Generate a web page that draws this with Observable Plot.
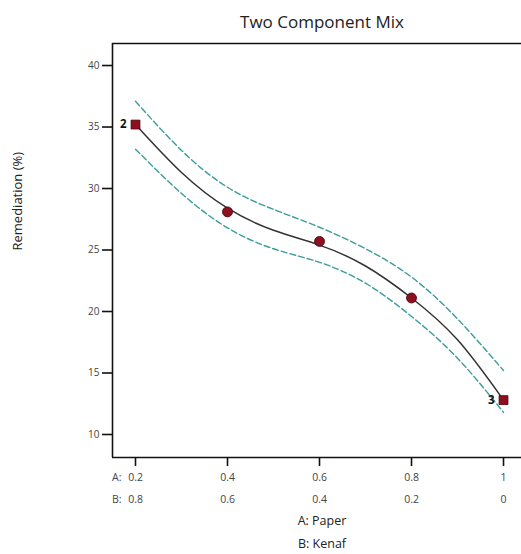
<!DOCTYPE html>
<html><head><meta charset="utf-8">
<script src="https://cdn.jsdelivr.net/npm/d3@7"></script>
<script src="https://cdn.jsdelivr.net/npm/@observablehq/plot@0.6"></script>
<style>
html,body{margin:0;padding:0;background:#fff;overflow:hidden;width:521px;height:554px;}
#title{box-sizing:border-box;height:34px;padding:12px 0 0 123px;width:521px;text-align:center;font-family:"Open Sans",sans-serif;font-size:17px;line-height:20px;color:#222;white-space:nowrap;}
#chart svg g[aria-label="y-axis tick label"] text{fill:#444;}
</style></head><body>
<div id="title"></div>
<div id="chart"></div>
<script>
const title = "Two Component Mix";
const yLabel = "Remediation (%)";
const xTitleLines = ["A: Paper", "B: Kenaf"];
const componentPrefixes = ["A:", "B:"];
const paperFrac = [0.2, 0.4, 0.6, 0.8, 1.0];
const remediation = [35.2, 28.1, 25.7, 21.1, 12.8];
const pointShape = ["square", "circle", "circle", "circle", "square"];
const pointCount = ["2", "", "", "", "3"];
const fitX = [0.2, 0.3, 0.4, 0.5, 0.6, 0.7, 0.8, 0.9, 1.0];
const fitY = [35.2, 31.3, 28.4, 26.6, 25.4, 23.7, 21.1, 17.7, 12.8];
const upperCI = [37.1, 33.1, 30.1, 28.3, 26.85, 25.1, 22.8, 19.4, 15.2];
const lowerCI = [33.2, 29.6, 26.8, 25.1, 24.0, 22.3, 19.6, 16.2, 11.8];
const xTicks = [0.2, 0.4, 0.6, 0.8, 1.0];
const xTickA = ["0.2", "0.4", "0.6", "0.8", "1"];
const xTickB = ["0.8", "0.6", "0.4", "0.2", "0"];
const yTicks = [10, 15, 20, 25, 30, 35, 40];
const xDomain = [0.15, 1.0391];
const yDomain = [8.13, 41.79];

document.getElementById("title").textContent = title;

const font = '"Open Sans", sans-serif';
const tickFill = "#444";

const chart = Plot.plot({
  width: 521,
  height: 520,
  marginLeft: 112,
  marginRight: 0,
  marginTop: 9,
  marginBottom: 97,
  style: {fontFamily: font, background: "#fff", overflow: "visible"},
  x: {domain: xDomain},
  y: {domain: yDomain},
  marks: [
    Plot.ruleY([yDomain[1]], {stroke: "#111", strokeWidth: 1.6}),
    Plot.ruleY([yDomain[0]], {stroke: "#111", strokeWidth: 1.6}),
    Plot.ruleX([xDomain[0]], {stroke: "#111", strokeWidth: 1.6}),
    Plot.axisY(yTicks, {tickSize: 10, tickPadding: 3, fontSize: 10, label: null, stroke: "#111", strokeWidth: 1.6}),
    Plot.axisX(xTicks, {tickSize: 9, tickFormat: () => "", label: null, stroke: "#111", strokeWidth: 1.6}),
    Plot.text(xTicks, {x: d => d, frameAnchor: "bottom", dy: 23, text: (d, i) => xTickA[i], fontSize: 10.5, fill: tickFill}),
    Plot.text(xTicks, {x: d => d, frameAnchor: "bottom", dy: 45, text: (d, i) => xTickB[i], fontSize: 10.5, fill: tickFill}),
    Plot.text([componentPrefixes[0]], {x: () => xTicks[0], frameAnchor: "bottom", dy: 23, dx: -14, textAnchor: "end", text: d => d, fontSize: 10.5, fill: tickFill}),
    Plot.text([componentPrefixes[1]], {x: () => xTicks[0], frameAnchor: "bottom", dy: 45, dx: -14, textAnchor: "end", text: d => d, fontSize: 10.5, fill: tickFill}),
    Plot.text([xTitleLines[0]], {frameAnchor: "bottom", dx: 5, dy: 67, text: d => d, fontSize: 12.5, fill: "#222"}),
    Plot.text([xTitleLines[1]], {frameAnchor: "bottom", dx: 5, dy: 90, text: d => d, fontSize: 12.5, fill: "#222"}),
    Plot.text([yLabel], {frameAnchor: "left", dx: -95, rotate: -90, text: d => d, fontSize: 13, fill: "#222"}),
    Plot.line(fitX, {x: d => d, y: (d, i) => upperCI[i], curve: "natural", stroke: "#3a9c9c", strokeWidth: 1.4, strokeDasharray: "6,3"}),
    Plot.line(fitX, {x: d => d, y: (d, i) => lowerCI[i], curve: "natural", stroke: "#3a9c9c", strokeWidth: 1.4, strokeDasharray: "6,3"}),
    Plot.line(fitX, {x: d => d, y: (d, i) => fitY[i], curve: "natural", stroke: "#333", strokeWidth: 1.5}),
    Plot.dot(paperFrac, {x: d => d, y: (d, i) => remediation[i], symbol: (d, i) => pointShape[i], r: 5, fill: "#8c1020", stroke: "#4a0008", strokeWidth: 0.8}),
    Plot.text(paperFrac, {x: d => d, y: (d, i) => remediation[i], text: (d, i) => pointCount[i], dx: -9, textAnchor: "end", fontWeight: "bold", fontSize: 11.5, fill: "#111"})
  ]
});
document.getElementById("chart").appendChild(chart);
</script>
</body></html>
